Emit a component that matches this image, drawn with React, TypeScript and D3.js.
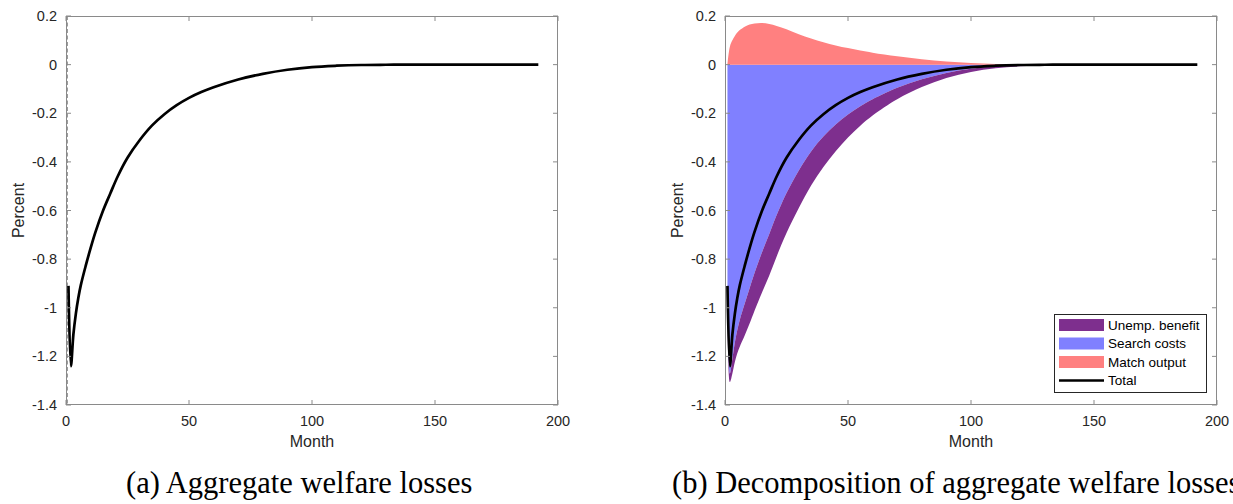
import React from 'react';
import * as d3 from 'd3';

// Months at which the responses are sampled
const months = [1, 2, 3, 4, 5, 6, 8, 10, 12, 15, 18, 21, 25, 30, 35, 40, 45, 50, 55, 60, 70, 80, 90, 100, 110, 120, 130, 140, 160, 192];

// Aggregate welfare loss (percent)
const totalLoss = [-0.91, -1.24, -1.11, -1.025, -0.96, -0.908, -0.828, -0.755, -0.688, -0.602, -0.53, -0.46, -0.383, -0.31, -0.25, -0.204, -0.167, -0.137, -0.113, -0.093, -0.061, -0.038, -0.021, -0.01, -0.0045, -0.0015, -0.0005, 0, 0, 0];

// Decomposition components (percent)
const matchOutput = [0, 0.075, 0.1, 0.118, 0.132, 0.142, 0.156, 0.165, 0.169, 0.171, 0.167, 0.159, 0.145, 0.125, 0.107, 0.092, 0.079, 0.068, 0.058, 0.049, 0.034, 0.022, 0.013, 0.007, 0.003, 0.0015, 0.0007, 0.0003, 0, 0];
const searchCosts = [-0.93, -1.27, -1.21, -1.143, -1.092, -1.05, -0.984, -0.92, -0.857, -0.773, -0.697, -0.619, -0.528, -0.435, -0.357, -0.296, -0.246, -0.205, -0.171, -0.142, -0.095, -0.06, -0.034, -0.017, -0.007, -0.003, -0.0012, -0.0003, 0, 0];
const unempBenefit = [0, -0.035, -0.06, -0.08, -0.095, -0.11, -0.13, -0.145, -0.155, -0.165, -0.17, -0.17, -0.165, -0.155, -0.14, -0.125, -0.11, -0.095, -0.08, -0.067, -0.047, -0.032, -0.021, -0.013, -0.008, -0.004, -0.002, -0.001, 0, 0];

const xTicks = [0, 50, 100, 150, 200];
const yTicks = [0.2, 0, -0.2, -0.4, -0.6, -0.8, -1, -1.2, -1.4];
const legendLabels = ['Unemp. benefit', 'Search costs', 'Match output', 'Total'];
const legendColors = ['#7e2f8e', '#8080ff', '#ff8080', '#000000'];
const captions = ['(a) Aggregate welfare losses', '(b) Decomposition of aggregate welfare losses'];

const SANS = '"Liberation Sans", Arial, Helvetica, sans-serif';
const SERIF = '"Liberation Serif", "Times New Roman", serif';
const AXIS = '#8a8a8a';
const TEXT = '#262626';

const smooth = d3.curveCatmullRom.alpha(0.5);

type PanelProps = { x0: number; decomposed: boolean; caption: string; captionX: number };

function Panel({ x0, decomposed, caption, captionX }: PanelProps) {
  const top = 16;
  const bottom = 405;
  const width = 492;
  const x = d3.scaleLinear().domain([0, 200]).range([x0, x0 + width]);
  const y = d3.scaleLinear().domain([-1.4, 0.2]).range([bottom, top]);
  const idx = months.map((_, i) => i);

  const line = d3
    .line<number>()
    .x((i) => x(months[i]))
    .y((i) => y(totalLoss[i]))
    .curve(smooth);

  const searchArea = d3
    .area<number>()
    .x((i) => x(months[i]))
    .y0(() => y(0))
    .y1((i) => y(searchCosts[i]))
    .curve(smooth);

  const benefitArea = d3
    .area<number>()
    .x((i) => x(months[i]))
    .y0((i) => y(searchCosts[i]))
    .y1((i) => y(searchCosts[i] + unempBenefit[i]))
    .curve(smooth);

  const matchArea = d3
    .area<number>()
    .x((i) => x(months[i]))
    .y0(() => y(0))
    .y1((i) => y(matchOutput[i]))
    .curve(smooth);

  const x1 = x0 + width;
  const tickLen = 5;
  const midX = x0 + width / 2;

  // legend geometry
  const lgX = x0 + 329;
  const lgY = 314;
  const rowH = 18.5;

  return (
    <g>
      {decomposed && (
        <g>
          <path d={searchArea(idx) || ''} fill="#8080ff" />
          <path d={benefitArea(idx) || ''} fill="#7e2f8e" />
          <path d={matchArea(idx) || ''} fill="#ff8080" />
        </g>
      )}
      {!decomposed && (
        <line
          x1={x(0.6)}
          x2={x(0.6)}
          y1={top}
          y2={bottom}
          stroke="#9a9a9a"
          strokeWidth={1}
          strokeDasharray="4,2.5"
        />
      )}
      <path d={line(idx) || ''} fill="none" stroke="#000" strokeWidth={2.7} strokeLinejoin="miter" />

      {/* frame */}
      <rect x={x0 + 0.5} y={top + 0.5} width={width - 1} height={bottom - top - 1} fill="none" stroke={AXIS} strokeWidth={1} />
      {xTicks.map((t) => (
        <g key={'xt' + t}>
          <line x1={x(t)} x2={x(t)} y1={bottom} y2={bottom - tickLen} stroke={AXIS} />
          <line x1={x(t)} x2={x(t)} y1={top} y2={top + tickLen} stroke={AXIS} />
          <text x={x(t)} y={425.5} textAnchor="middle" fontFamily={SANS} fontSize={14.5} fill={TEXT}>
            {String(t)}
          </text>
        </g>
      ))}
      {yTicks.map((t) => (
        <g key={'yt' + t}>
          <line x1={x0} x2={x0 + tickLen} y1={y(t)} y2={y(t)} stroke={AXIS} />
          <line x1={x1} x2={x1 - tickLen} y1={y(t)} y2={y(t)} stroke={AXIS} />
          <text x={x0 - 9} y={y(t)} dy="0.35em" textAnchor="end" fontFamily={SANS} fontSize={14.5} fill={TEXT}>
            {String(t)}
          </text>
        </g>
      ))}
      <text x={midX} y={446.5} textAnchor="middle" fontFamily={SANS} fontSize={16} fill={TEXT}>
        Month
      </text>
      <text
        transform={`translate(${x0 - 48},${(top + bottom) / 2}) rotate(-90)`}
        textAnchor="middle"
        dy="0.35em"
        fontFamily={SANS}
        fontSize={16}
        fill={TEXT}
      >
        Percent
      </text>

      {decomposed && (
        <g>
          <rect x={lgX + 0.5} y={lgY + 0.5} width={152} height={78} fill="#fff" stroke="#262626" strokeWidth={1} />
          {legendLabels.map((lab, i) => {
            const cy = lgY + 11 + i * rowH;
            return (
              <g key={lab}>
                {i < 3 ? (
                  <rect x={lgX + 5} y={cy - 6} width={45} height={12} fill={legendColors[i]} />
                ) : (
                  <line x1={lgX + 5} x2={lgX + 50} y1={cy} y2={cy} stroke="#000" strokeWidth={2.7} />
                )}
                <text x={lgX + 54} y={cy} dy="0.36em" fontFamily={SANS} fontSize={13.5} fill="#000">
                  {lab}
                </text>
              </g>
            );
          })}
        </g>
      )}

      <text x={captionX} y={493} fontFamily={SERIF} fontSize={30.5} fill="#000">
        {caption}
      </text>
    </g>
  );
}

export default function App() {
  return (
    <div style={{ position: 'absolute', left: 0, top: 0 }}>
      <svg width={1233} height={504} viewBox="0 0 1233 504" style={{ display: 'block', background: '#fff' }}>
        <rect x={0} y={0} width={1233} height={504} fill="#fff" />
        <Panel x0={66} decomposed={false} caption={captions[0]} captionX={126} />
        <Panel x0={725} decomposed={true} caption={captions[1]} captionX={672} />
      </svg>
    </div>
  );
}
